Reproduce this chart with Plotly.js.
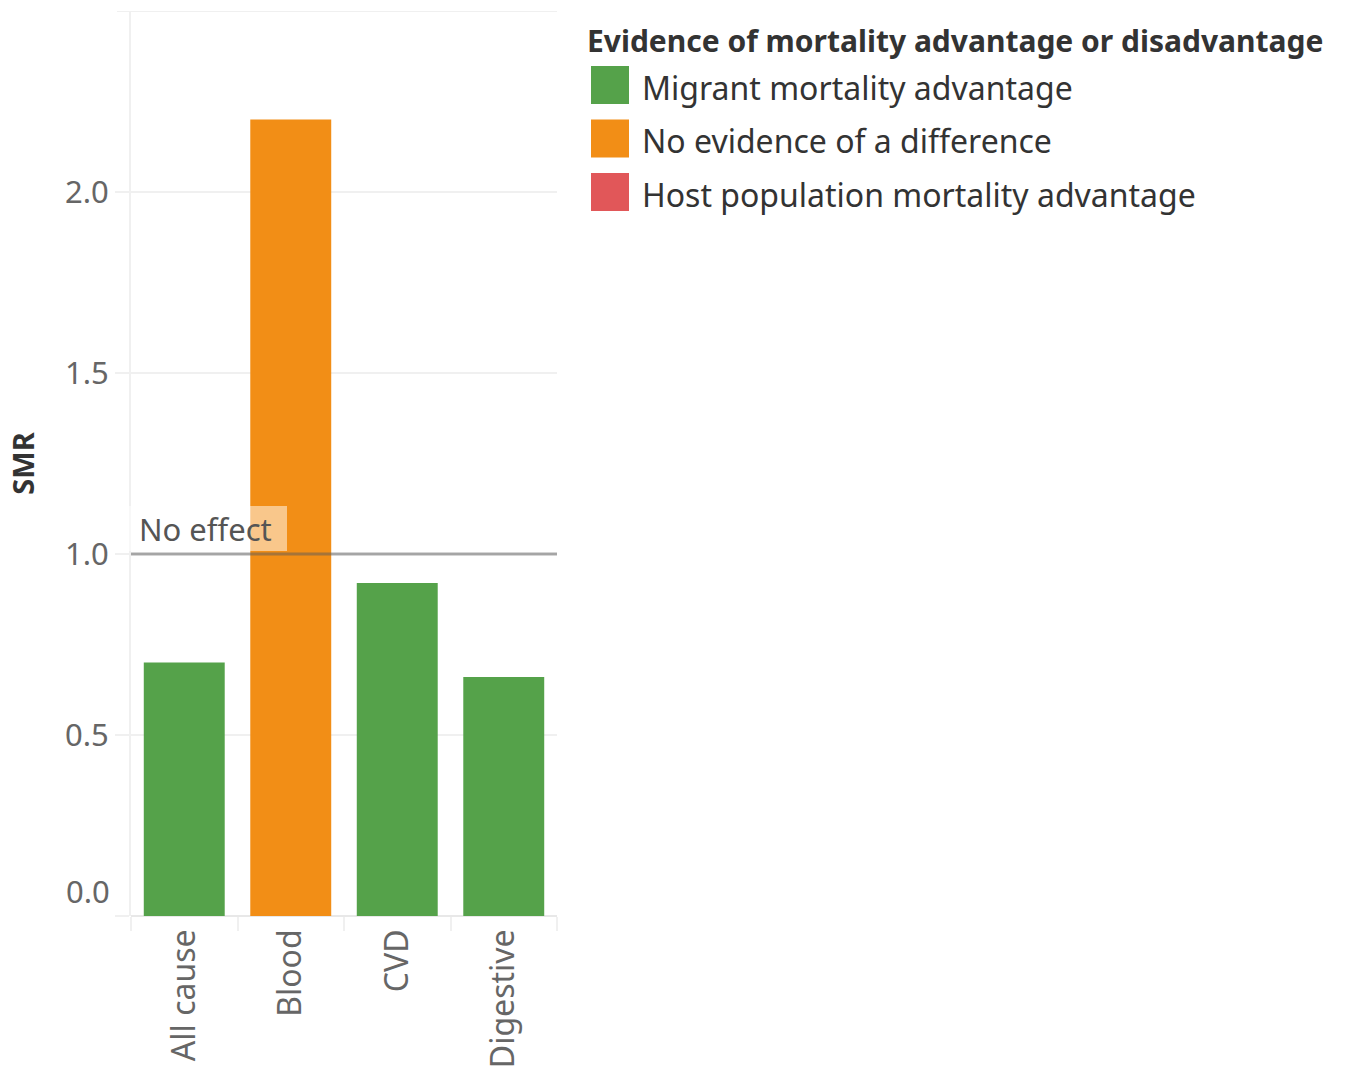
<!DOCTYPE html>
<html>
<head>
<meta charset="utf-8">
<script src="https://cdn.plot.ly/plotly-3.0.1.min.js"></script>
<style>html,body{margin:0;padding:0;background:#fff;}#chart{width:1345px;height:1078px;}</style>
</head>
<body>
<div id="chart"></div>
<script>
// ---- data ----
const categories = ["All cause", "Blood", "CVD", "Digestive"];
const smrValues = [0.70, 2.20, 0.92, 0.66];
const evidence = ["Migrant mortality advantage", "No evidence of a difference", "Migrant mortality advantage", "Migrant mortality advantage"];
const legendLabels = ["Migrant mortality advantage", "No evidence of a difference", "Host population mortality advantage"];
const legendTitle = "Evidence of mortality advantage or disadvantage";
const yTickVals = [0, 0.5, 1.0, 1.5, 2.0];
const yTickText = ["0.0", "0.5", "1.0", "1.5", "2.0"];
const referenceValue = 1.0;
const referenceLabel = "No effect";

// ---- styles ----
const colorMap = {
  "Migrant mortality advantage": "#55a24a",
  "No evidence of a difference": "#f28e16",
  "Host population mortality advantage": "#e15759"
};
const FONT = "Noto Sans, sans-serif";
const W = 1345, H = 1078;
const M = {l: 131, r: 1345 - 557, t: 11, b: 1078 - 916};
const pw = W - M.l - M.r, ph = H - M.t - M.b;
const px2x = p => (p - M.l) / pw;
const py2y = p => (H - M.b - p) / ph;

const shapes = [];
const annotations = [];

// top border line
shapes.push({type: 'line', xref: 'paper', yref: 'y', x0: px2x(117), x1: 1, y0: 2.5, y1: 2.5,
  line: {color: '#f0f0f0', width: 2}, layer: 'below'});
// reference line
shapes.push({type: 'line', xref: 'paper', yref: 'y', x0: 0, x1: 1, y0: referenceValue, y1: referenceValue,
  line: {color: 'rgba(90,90,90,0.5)', width: 3}, layer: 'above'});
// reference label box
shapes.push({type: 'rect', xref: 'paper', yref: 'paper', x0: px2x(127), x1: px2x(287), y0: py2y(551), y1: py2y(506),
  fillcolor: 'rgba(255,255,255,0.5)', line: {width: 0}, layer: 'above'});
annotations.push({xref: 'paper', yref: 'paper', x: px2x(137), y: py2y(529), xanchor: 'left', yanchor: 'middle',
  text: referenceLabel, showarrow: false,
  font: {family: FONT, size: 31, color: '#555'}});

// bottom tick label (raised above the baseline, as in the reference)
annotations.push({xref: 'paper', yref: 'y', x: px2x(112), y: yTickVals[0], xanchor: 'right', yanchor: 'bottom',
  yshift: 2, text: yTickText[0], showarrow: false, font: {family: FONT, size: 31, color: '#666'}});

// legend title
annotations.push({xref: 'paper', yref: 'paper', x: px2x(585), y: py2y(40), xanchor: 'left', yanchor: 'middle',
  text: '<b>' + legendTitle + '</b>', showarrow: false, font: {family: FONT, size: 30, color: '#333'}});
legendLabels.forEach((lab, i) => {
  const top = 66 + i * 53.5;
  shapes.push({type: 'rect', xref: 'paper', yref: 'paper', x0: px2x(591), x1: px2x(629),
    y0: py2y(top + 38), y1: py2y(top), fillcolor: colorMap[lab], line: {width: 0}});
  annotations.push({xref: 'paper', yref: 'paper', x: px2x(640), y: py2y(top + 21), xanchor: 'left', yanchor: 'middle',
    text: lab, showarrow: false, font: {family: FONT, size: 32, color: '#333'}});
});

const trace = {
  type: 'bar',
  x: categories,
  y: smrValues,
  marker: {color: evidence.map(e => colorMap[e]), line: {width: 0}},
  hoverinfo: 'x+y',
  showlegend: false
};

const layout = {
  width: W, height: H,
  margin: M,
  paper_bgcolor: '#fff', plot_bgcolor: '#fff',
  bargap: 0.24,
  showlegend: false,
  font: {family: FONT},
  xaxis: {
    type: 'category',
    tickangle: -90,
    ticks: 'outside', tickson: 'boundaries', ticklen: 14, tickwidth: 2, tickcolor: '#f0f0f0',
    ticklabelstandoff: 6,
    showgrid: false, showline: false, zeroline: false,
    tickfont: {family: FONT, size: 32, color: '#666'}
  },
  yaxis: {
    range: [0, 2.5],
    tickvals: yTickVals, ticktext: ["", ...yTickText.slice(1)],
    ticks: 'outside', ticklen: 14, tickwidth: 2, tickcolor: '#f0f0f0',
    showgrid: true, gridcolor: '#f0f0f0', gridwidth: 2,
    zeroline: true, zerolinecolor: '#e8e8e8', zerolinewidth: 2,
    showline: true, linecolor: '#f0f0f0', linewidth: 2,
    tickfont: {family: FONT, size: 31, color: '#666'},
    title: {text: '<b>SMR</b>', font: {family: FONT, size: 29, color: '#333'}, standoff: 22}
  },
  shapes: shapes,
  annotations: annotations
};

Plotly.newPlot('chart', [trace], layout, {displayModeBar: false, staticPlot: true});
</script>
</body>
</html>
